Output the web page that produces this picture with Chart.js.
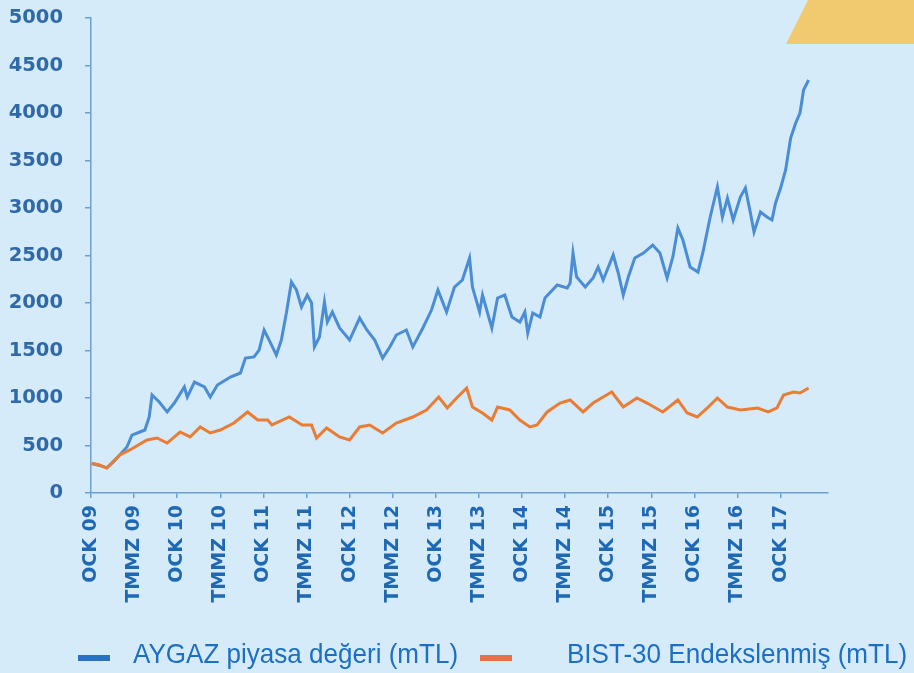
<!DOCTYPE html>
<html>
<head>
<meta charset="utf-8">
<script src="https://cdn.jsdelivr.net/npm/chart.js@4.4.0/dist/chart.umd.min.js"></script>
<style>
  html, body { margin: 0; padding: 0; background: #d5ebf9; }
  #wrap { position: relative; width: 914px; height: 673px; overflow: hidden; background: #d5ebf9; }
  #chart { position: absolute; left: 0; top: 0; }
  .corner { position: absolute; left: 786px; top: 0; width: 128px; height: 44px; background: #f1c96f;
            clip-path: polygon(0 100%, 22px 0, 100% 0, 100% 100%); }
  .dash { position: absolute; top: 655px; width: 32px; height: 6px; }
  .lbl { position: absolute; top: 640px; font: 28px "Liberation Sans", Arial, sans-serif; line-height: 28px;
         color: #1c6fc2; white-space: nowrap; transform: scaleX(0.93); transform-origin: left top; }
</style>
</head>
<body>
<div id="wrap">
  <canvas id="chart" width="914" height="673"></canvas>
  <div class="corner"></div>
  <div class="dash" style="left:78px;background:#2773bd"></div>
  <div class="lbl" style="left:133px">AYGAZ piyasa değeri (mTL)</div>
  <div class="dash" style="left:480px;background:#e8704a"></div>
  <div class="lbl" style="left:567px">BIST-30 Endekslenmiş (mTL)</div>
</div>
<script>
// x = months since Jan 2009
const xLabels = ['OCK 09', 'TMMZ 09', 'OCK 10', 'TMMZ 10', 'OCK 11', 'TMMZ 11', 'OCK 12', 'TMMZ 12',
  'OCK 13', 'TMMZ 13', 'OCK 14', 'TMMZ 14', 'OCK 15', 'TMMZ 15', 'OCK 16', 'TMMZ 16', 'OCK 17'];

const aygazMonths = [0.1, 1.2, 2.2, 3.0, 4.0, 5.0, 5.7, 6.8, 7.5, 8.1, 8.5, 9.5, 10.6, 11.6, 13.0, 13.4,
  14.4, 15.8, 16.6, 17.6, 19.4, 20.8, 21.5, 22.7, 23.4, 24.1, 24.8, 25.8, 26.5, 27.2, 27.9, 28.6,
  29.3, 30.1, 30.7, 31.1, 31.8, 32.5, 32.9, 33.6, 34.6, 36.0, 37.4, 38.4, 39.5, 40.6, 41.6, 42.5,
  43.9, 44.8, 46.2, 47.4, 48.3, 49.5, 50.6, 51.7, 52.7, 53.1, 54.1, 54.5, 55.8, 56.6, 57.6, 58.6,
  59.7, 60.4, 60.8, 61.5, 62.5, 63.2, 64.9, 66.3, 66.7, 67.1, 67.6, 68.8, 69.9, 70.6, 71.3, 72.7,
  73.4, 74.1, 74.8, 75.7, 76.9, 78.2, 79.2, 80.2, 81.0, 81.7, 82.4, 83.4, 84.5, 85.2, 86.2, 87.2,
  87.9, 88.6, 89.4, 90.4, 91.1, 91.8, 92.3, 93.2, 94.1, 94.8, 95.3, 96.0, 96.7, 97.4, 98.1, 98.7,
  99.2, 99.9];
const aygazValues = [310, 290, 265, 320, 400, 484, 610, 642, 663, 800, 1032, 958, 853, 947, 1116, 1010,
  1168, 1116, 1010, 1137, 1221, 1263, 1421, 1432, 1505, 1716, 1610, 1453, 1610, 1895, 2221, 2137,
  1958, 2084, 2000, 1537, 1642, 2010, 1800, 1905, 1737, 1610, 1842, 1716, 1610, 1421, 1537, 1663,
  1716, 1537, 1737, 1926, 2137, 1905, 2168, 2242, 2474, 2168, 1905, 2084, 1737, 2053, 2084, 1853,
  1800, 1905, 1684, 1895, 1853, 2053, 2189, 2158, 2210, 2526, 2274, 2168, 2263, 2379, 2242, 2505,
  2316, 2084, 2274, 2474, 2526, 2610, 2526, 2263, 2484, 2789, 2663, 2379, 2326, 2537, 2905, 3221,
  2905, 3105, 2874, 3116, 3210, 2947, 2747, 2958, 2905, 2874, 3053, 3210, 3400, 3737, 3895, 4000,
  4242, 4347];

const bistMonths = [0.1, 1.0, 2.2, 4.0, 5.4, 7.8, 9.2, 10.6, 12.4, 13.8, 15.2, 16.6, 18.0, 19.9, 21.8,
  23.2, 24.6, 25.2, 27.6, 29.4, 30.7, 31.4, 32.8, 34.6, 36.0, 37.4, 38.8, 40.6, 42.5, 44.8, 46.7,
  47.1, 48.4, 49.6, 50.9, 52.3, 53.1, 54.5, 55.8, 56.6, 58.3, 59.7, 61.1, 62.1, 63.5, 65.3, 66.7,
  68.5, 69.9, 71.3, 72.5, 74.1, 76.0, 77.4, 79.6, 81.7, 83.0, 84.4, 85.8, 87.2, 88.6, 90.4, 92.8,
  94.3, 95.5, 96.4, 97.8, 98.7, 99.9];
const bistValues = [310, 300, 263, 400, 453, 558, 579, 526, 642, 590, 695, 632, 663, 737, 853,
  768, 768, 716, 800, 716, 716, 579, 684, 590, 558, 695, 716, 632, 737, 800, 874,
  905, 1010, 895, 1000, 1105, 905, 842, 768, 905, 874, 768, 695, 716, 853, 947, 979,
  853, 947, 1010, 1063, 905, 1000, 947, 853, 979, 842, 800, 895, 1000, 905, 874, 895,
  853, 895, 1032, 1063, 1053, 1105];

const yTicks = [0, 500, 1000, 1500, 2000, 2500, 3000, 3500, 4000, 4500, 5000];

const axisColor = '#6e9fcf';
const toPoints = (xs, ys) => xs.map((m, i) => ({ x: m, y: ys[i] }));

new Chart(document.getElementById('chart'), {
  type: 'line',
  data: {
    datasets: [
      {
        label: 'BIST-30 Endekslenmiş (mTL)',
        data: toPoints(bistMonths, bistValues),
        borderColor: '#ea7c34',
        borderWidth: 3,
        pointRadius: 0,
        tension: 0
      },
      {
        label: 'AYGAZ piyasa değeri (mTL)',
        data: toPoints(aygazMonths, aygazValues),
        borderColor: '#4a8dd5',
        borderWidth: 3,
        pointRadius: 0,
        tension: 0
      }
    ]
  },
  options: {
    responsive: false,
    animation: false,
    layout: { padding: { top: 18, right: 86, bottom: 0, left: 0 } },
    plugins: { legend: { display: false }, tooltip: { enabled: false } },
    scales: {
      x: {
        type: 'linear',
        min: 0,
        max: 102.6,
        afterBuildTicks: (s) => { s.ticks = xLabels.map((_, i) => ({ value: i * 6 })); },
        afterFit: (s) => {
          s.height = 180;
          s.paddingLeft = 0; s.paddingRight = 0; s.paddingTop = 0; s.paddingBottom = 0;
        },
        grid: { drawOnChartArea: false, color: axisColor, tickLength: 5, lineWidth: 1.5 },
        border: { color: axisColor, width: 1.5 },
        ticks: {
          autoSkip: false,
          minRotation: 90,
          maxRotation: 90,
          padding: 7,
          color: '#1f69b4',
          font: { family: 'DejaVu Sans', weight: 'bold', size: 19 },
          callback: (v, i) => xLabels[i]
        }
      },
      y: {
        min: 0,
        max: 5000,
        afterBuildTicks: (s) => { s.ticks = yTicks.map(v => ({ value: v })); },
        afterFit: (s) => {
          s.width = 91;
          s.paddingLeft = 0; s.paddingRight = 0; s.paddingTop = 0; s.paddingBottom = 0;
        },
        grid: { drawOnChartArea: false, color: axisColor, tickLength: 6, lineWidth: 1.5 },
        border: { color: axisColor, width: 1.5 },
        ticks: {
          padding: 22,
          color: '#2f69a8',
          font: { family: 'DejaVu Sans', weight: 'bold', size: 19.5 },
          callback: (v) => String(v)
        }
      }
    }
  }
});
</script>
</body>
</html>
